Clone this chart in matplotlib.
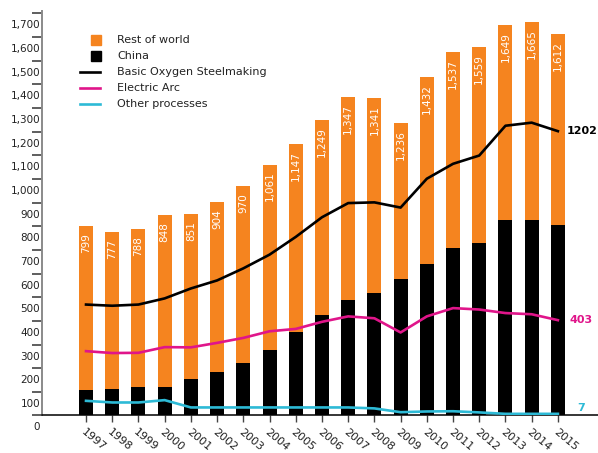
import numpy as np
import matplotlib
matplotlib.use("Agg")
import matplotlib.pyplot as plt
from matplotlib.lines import Line2D
from matplotlib.transforms import ScaledTranslation

# Crude steel production (Mt)
YEARS  = list(range(1997, 2016))
TOTAL  = [799, 777, 788, 848, 851, 904, 970, 1061, 1147, 1249,
          1347, 1341, 1236, 1432, 1537, 1559, 1649, 1665, 1612]
CHINA  = [108, 114, 121, 122, 156, 182, 224, 275, 355, 423,
          490, 516, 577, 640, 706, 731, 827, 827, 805]
BOS    = [469, 464, 469, 495, 537, 571, 622, 680, 755, 838,
          898, 901, 879, 1001, 1064, 1099, 1225, 1238, 1202]
EAF    = [272, 264, 265, 289, 288, 307, 328, 356, 366, 396,
          419, 411, 351, 419, 454, 448, 433, 428, 403]
OTHER  = [62, 55, 55, 65, 34, 34, 34, 34, 34, 34,
          34, 30, 14, 17, 18, 13, 7, 7, 7]
END_LABELS = ["1202", "403", "7"]

ORANGE  = "#F5841F"
BLACK   = "#000000"
MAGENTA = "#E0158A"
CYAN    = "#2DBAD6"
TEXT    = "#222222"

plt.rcParams["font.family"] = "DejaVu Sans"

fig = plt.figure(figsize=(5.98, 4.53), dpi=100)
ax = fig.add_axes([0.0702, 0.0828, 0.9298, 0.8929])

rest = np.array(TOTAL) - np.array(CHINA)
ax.bar(YEARS, CHINA, width=0.534, color=BLACK, zorder=1)
ax.bar(YEARS, rest, bottom=CHINA, width=0.534, color=ORANGE, zorder=1)

# bar totals, written inside the top of each bar
for yr, tot in zip(YEARS, TOTAL):
    ax.text(yr, tot - 30, f"{tot:,}", rotation=90, ha="center", va="top",
            color="white", fontsize=7.5, zorder=4)

ax.plot(YEARS, BOS, color=BLACK, lw=1.9, zorder=3)
ax.plot(YEARS, EAF, color=MAGENTA, lw=1.9, zorder=3)
ax.plot(YEARS, OTHER, color=CYAN, lw=1.9, zorder=3)

ax.text(2015.35, BOS[-1], END_LABELS[0], color=BLACK, fontsize=8,
        fontweight="bold", va="center", ha="left")
ax.text(2015.45, EAF[-1], END_LABELS[1], color=MAGENTA, fontsize=8,
        fontweight="bold", va="center", ha="left")
ax.text(2015.75, OTHER[-1] + 24, END_LABELS[2], color=CYAN, fontsize=8,
        fontweight="bold", va="center", ha="left")

ax.set_xlim(1995.32, 2016.53)
ax.set_ylim(0, 1710)

# y axis: ticks every 100, labels hang just under their tick
ax.set_yticks(range(0, 1701, 100))
ax.set_yticklabels([f"{v:,}" for v in range(0, 1701, 100)])
ax.tick_params(axis="y", direction="out", length=7.2, width=1.1,
               color="#333333", pad=-5.8, labelsize=7.5, labelcolor=TEXT)
shift = ScaledTranslation(0, -0.11, fig.dpi_scale_trans)
for lab in ax.get_yticklabels():
    lab.set_transform(lab.get_transform() + shift)

ax.set_xticks(YEARS)
ax.set_xticklabels([str(y) for y in YEARS], rotation=-40, ha="left",
                   va="top", rotation_mode="anchor")
ax.tick_params(axis="x", direction="out", length=5, width=1.0,
               color="#444444", pad=3, labelsize=8, labelcolor=TEXT)

for side in ("top", "right"):
    ax.spines[side].set_visible(False)
ax.spines["left"].set_color("#8a8a8a")
ax.spines["left"].set_linewidth(1.4)
ax.spines["bottom"].set_color(BLACK)
ax.spines["bottom"].set_linewidth(1.1)


# ---- legend, drawn by hand so the squares sit like the original ----
def px(x, y):
    return x / 598, 1 - y / 453


legend_rows = [
    ("Rest of world", "square", ORANGE),
    ("China", "square", BLACK),
    ("Basic Oxygen Steelmaking", "line", BLACK),
    ("Electric Arc", "line", MAGENTA),
    ("Other processes", "line", CYAN),
]
for i, (label, kind, col) in enumerate(legend_rows):
    yy = 40 + 16 * i
    if kind == "square":
        x0, y0 = px(96, yy)
        fig.add_artist(Line2D([x0], [y0], marker="s", markersize=6.5,
                              color=col, linestyle="none"))
    else:
        (x0, y0), (x1, _) = px(80, yy), px(100, yy)
        fig.add_artist(Line2D([x0, x1], [y0, y0], color=col, lw=1.9))
    tx, ty = px(117, yy)
    fig.text(tx, ty, label, fontsize=8, color=TEXT, va="center", ha="left")

fig.savefig("out.png", dpi=100)
